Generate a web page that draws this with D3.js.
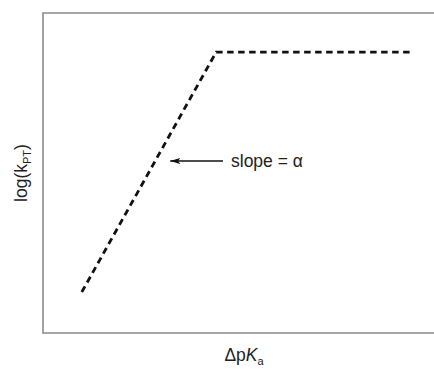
<!DOCTYPE html>
<html>
<head>
<meta charset="utf-8">
<script src="https://cdn.jsdelivr.net/npm/d3@7"></script>
<style>
  html, body { margin: 0; padding: 0; background: #fff; }
  svg { display: block; }
</style>
</head>
<body>
<svg id="chart" width="434" height="369"></svg>
<script>
// Piecewise rate-vs-driving-force relationship (arbitrary units)
const dpKa = [0.97, 4.33, 9.25];
const logK = [1.28, 8.78, 8.78];

// Annotation for the rising segment
const arrowFrom = [4.5, 5.375];
const arrowTo = [3.18, 5.375];
const slopeLabel = "slope = α";

const svg = d3.select("#chart");
const margin = { left: 43, top: 13, right: -9, bottom: 36 };
const W = 434, H = 369;
const font = "Liberation Sans, Arial, sans-serif";

const x = d3.scaleLinear().domain([0, 10]).range([margin.left, W - margin.right]);
const y = d3.scaleLinear().domain([0, 10]).range([H - margin.bottom, margin.top]);

// Frame (left, top, bottom)
svg.append("path")
  .attr("d", `M${x(10)},${y(10)} H${x(0)} V${y(0)} H${x(10)}`)
  .attr("fill", "none")
  .attr("stroke", "#8a8a8a")
  .attr("stroke-width", 1.6);

// Dashed curve
const line = d3.line().x((d, i) => x(dpKa[i])).y((d, i) => y(logK[i]));
svg.append("path")
  .datum(dpKa)
  .attr("d", line)
  .attr("fill", "none")
  .attr("stroke", "#111")
  .attr("stroke-width", 2.8)
  .attr("stroke-dasharray", "6.5,4.5");

// Arrow pointing at the sloped segment
svg.append("defs").append("marker")
  .attr("id", "head")
  .attr("viewBox", "0 0 10 6")
  .attr("refX", 10).attr("refY", 3)
  .attr("markerWidth", 11).attr("markerHeight", 6)
  .attr("markerUnits", "userSpaceOnUse")
  .attr("orient", "auto")
  .append("path").attr("d", "M0,0 L10,3 L0,6 L2,3 Z").attr("fill", "#111");

svg.append("line")
  .attr("x1", x(arrowFrom[0])).attr("y1", y(arrowFrom[1]))
  .attr("x2", x(arrowTo[0])).attr("y2", y(arrowTo[1]))
  .attr("stroke", "#111").attr("stroke-width", 1.4)
  .attr("marker-end", "url(#head)");

svg.append("text")
  .attr("x", x(4.7)).attr("y", y(arrowFrom[1]) + 6)
  .attr("font-family", font)
  .attr("font-size", 17.5)
  .attr("fill", "#222")
  .text(slopeLabel);

// Axis titles
const yTitle = svg.append("text")
  .attr("transform", `translate(27,${(y(0) + y(10)) / 2}) rotate(-90)`)
  .attr("text-anchor", "middle")
  .attr("font-family", font)
  .attr("font-size", 17.5)
  .attr("fill", "#222");
yTitle.append("tspan").text("log(k");
yTitle.append("tspan").attr("font-size", 11).attr("dy", 4).text("PT");
yTitle.append("tspan").attr("dy", -4).text(")");

const xTitle = svg.append("text")
  .attr("x", 244).attr("y", 361)
  .attr("text-anchor", "middle")
  .attr("font-family", font)
  .attr("font-size", 17.5)
  .attr("fill", "#222");
xTitle.append("tspan").text("Δp");
xTitle.append("tspan").attr("font-style", "italic").text("K");
xTitle.append("tspan").attr("font-size", 11).attr("dy", 4).text("a");
</script>
</body>
</html>
